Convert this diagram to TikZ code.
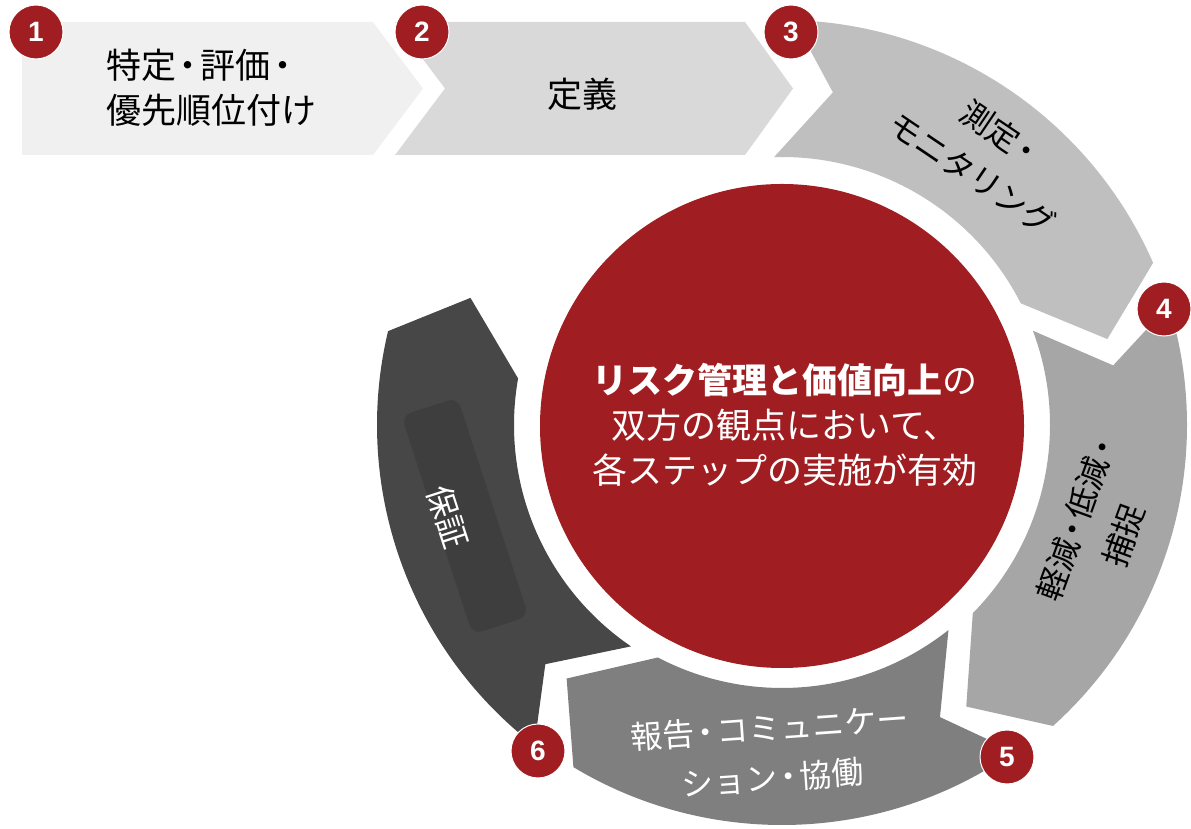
\documentclass[tikz,border=0pt]{standalone}
\usepackage{fontspec}
\setmainfont{Noto Sans CJK JP}
\newfontfamily\numfont{Liberation Sans}
\usetikzlibrary{calc}
\definecolor{myred}{HTML}{A01E21}
\definecolor{gA}{HTML}{F0F0F0}
\definecolor{gB}{HTML}{D9D9D9}
\definecolor{gC}{HTML}{BFBFBF}
\definecolor{gD}{HTML}{A6A6A6}
\definecolor{gE}{HTML}{7F7F7F}
\definecolor{gF}{HTML}{474747}
\definecolor{gG}{HTML}{3E3E3E}
\newcommand\nd{\kern-0.15em・\kern-0.15em}
% #1 start angle, #2 end angle, #3 colour, #4 centre coordinate
\newcommand\ringseg[4]{%
  \path[fill=#3] ([shift={(#4)}]{#1-1.7}:405pt)
    arc[start angle=#1-1.7, end angle=#2-1.7, radius=405pt]
    -- ([shift={(#4)}]{#2-10.5}:336.5pt)
    -- ([shift={(#4)}]{#2+1.7}:268pt)
    arc[start angle=#2+1.7, end angle=#1+1.7, radius=268pt]
    -- ([shift={(#4)}]{#1-8.7}:336.5pt) -- cycle;}
\begin{document}
\begin{tikzpicture}[x=1pt,y=1pt,
  numc/.style={circle, fill=myred, draw=white, line width=1pt, minimum size=54pt, inner sep=0pt, text=white, font=\numfont\bfseries\fontsize{28}{28}\selectfont},
  bigtxt/.style={font=\fontsize{35}{45}\selectfont, inner sep=0pt},
  ringtxt/.style={font=\fontsize{32}{50}\selectfont, align=center, inner sep=0pt}]
\useasboundingbox (0,0) rectangle (1191,829);
\coordinate (C) at (782,404);
\coordinate (C5) at (782,409);
% chevrons
\fill[gA] (22,807) -- (373,807) -- (423,740.5) -- (373,674) -- (22,674) -- cycle;
\fill[gB] (395,807) -- (745,807) -- (793,740.5) -- (745,674) -- (395,674) -- (445,740.5) -- cycle;
% ring segments
\ringseg{90}{25.3}{gC}{C}
\ringseg{18.9}{-46.3}{gD}{C}
\ringseg{-53.3}{-119.3}{gE}{C5}
\ringseg{234}{168.3}{gF}{C}
% hub
\node[fill=myred, circle, minimum size=484pt, inner sep=0pt] (hub) at (782,403) {};
\node[rounded corners=10pt, fill=gG, minimum width=59pt, minimum height=230pt, rotate=18] (box6) at (465,313) {};
% texts
\node[bigtxt, anchor=west, align=left] (t1) at (106,741) {特定\nd 評価\nd\\優先順位付け};
\node[bigtxt] (t2) at (582,735) {定義};
\node[ringtxt, rotate=-34] (t3) at (986,676) {測定\nd\\モニタリング};
\node[ringtxt, rotate=70] (t4) at (1100,302) {軽減\nd 低減\nd\\捕捉};
\node[ringtxt, rotate=4, text=white] (t5) at (771,76) {報告\nd コミュニケー\\ション\nd 協働};
\node[ringtxt, rotate=-72, text=white] (t6) at (448,312) {保証};
\node[bigtxt, text=white, align=center] (hubtxt) at (785,404) {\textbf{リスク管理と価値向上}の\\双方の観点において、\\各ステップの実施が有効};
% numbers
\node[numc] (n1) at (36,797) {1};
\node[numc] (n2) at (422,797) {2};
\node[numc] (n3) at (791,797) {3};
\node[numc] (n4) at (1164,520) {4};
\node[numc] (n5) at (1007,72) {5};
\node[numc] (n6) at (538,78) {6};
\end{tikzpicture}
\end{document}
